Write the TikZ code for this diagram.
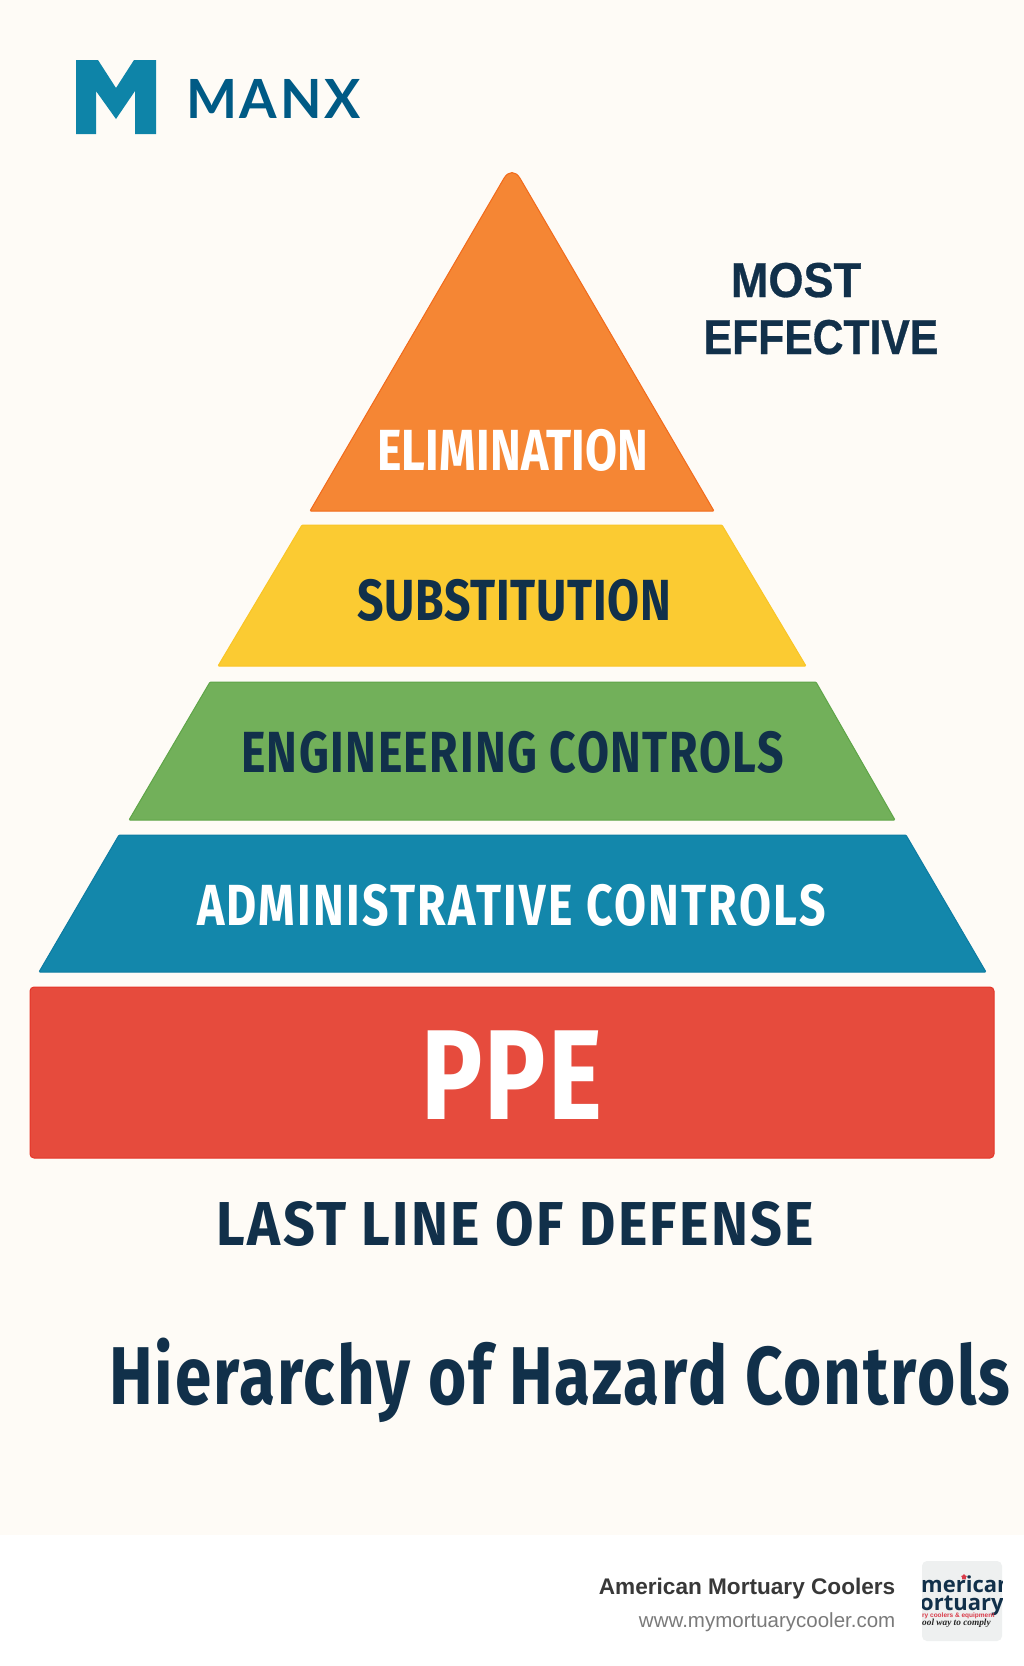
\documentclass[tikz,border=0pt]{standalone}
\usepackage{fontspec}
\usetikzlibrary{shapes.geometric}
\setmainfont{Fira Sans}
\newfontfamily\sidefont{Liberation Sans}
\newfontfamily\logofont[LetterSpace=5]{Lato}
\newfontfamily\badgefont{Open Sans}
\newfontfamily\mottofont{Liberation Serif}
\newcommand{\fitfont}[3]{\bfseries\addfontfeature{FakeStretch=#1,LetterSpace=#2}\fontsize{#3}{#3}\selectfont}
\newcommand{\sidetype}[1]{\sidefont\bfseries\addfontfeature{FakeStretch=#1,FakeBold=0.6}\fontsize{49}{52}\selectfont}

\definecolor{paper}{HTML}{FEFBF6}
\definecolor{navy}{HTML}{11304A}
\definecolor{elimfill}{HTML}{F58634}
\definecolor{elimline}{HTML}{F26A1B}
\definecolor{subsfill}{HTML}{FBCB32}
\definecolor{subsline}{HTML}{FAC526}
\definecolor{engifill}{HTML}{72B05A}
\definecolor{engiline}{HTML}{5FA548}
\definecolor{admifill}{HTML}{1387AB}
\definecolor{admiline}{HTML}{0E7CA2}
\definecolor{ppefill}{HTML}{E64B3D}
\definecolor{ppeline}{HTML}{E53528}
\definecolor{logoblue}{HTML}{0E84A8}
\definecolor{logotext}{HTML}{005A85}
\definecolor{badgefill}{HTML}{EEF0F0}
\definecolor{badgered}{HTML}{D93A48}

\tikzset{
    band/.style={rounded corners=1pt, line width=1pt},
    plainlabel/.style={anchor=base, inner sep=0pt},
    footlabel/.style={anchor=base east, inner sep=0pt, font=\sidefont},
    badgelabel/.style={anchor=base west, inner sep=0pt}
}

\begin{document}
\begin{tikzpicture}[x=1pt, y=-1pt]
    \useasboundingbox (0,0) rectangle (1024,1666);
    \fill[paper] (0,0) rectangle (1024,1535);
    \fill[white] (0,1535) rectangle (1024,1666);

    % logo
    \fill[logoblue] (76,60) -- (98,60) -- (116,88) -- (134,60) -- (156,60) -- (156,134) -- (135,134)
        -- (135,91) -- (116,119) -- (96,91) -- (96,134) -- (76,134) -- cycle;
    \node[anchor=base west, inner sep=0pt, text=logotext, font=\logofont\bfseries\fontsize{54}{56}\selectfont] (logo name) at (186,118) {MANX};

    % pyramid
    \draw[band, draw=elimline, fill=elimfill] (310,511) [rounded corners=16pt] -- (512,164.5) [rounded corners=1pt] -- (714,511) -- cycle;
    \draw[band, draw=subsline, fill=subsfill] (302,525) -- (722,525) -- (806,666) -- (218,666) -- cycle;
    \draw[band, draw=engiline, fill=engifill] (210,682) -- (816,682) -- (895,820) -- (129,820) -- cycle;
    \draw[band, draw=admiline, fill=admifill] (119,835) -- (906,835) -- (986,972) -- (39,972) -- cycle;
    \draw[band, rounded corners=4pt, draw=ppeline, fill=ppefill] (30,987) rectangle (994,1158);

    \node[plainlabel, text=white, font=\fitfont{0.8}{0.4}{58}] (elimination) at (513,470) {ELIMINATION};
    \node[plainlabel, text=navy, font=\fitfont{0.8}{1.4}{58}] (substitution) at (514.5,620) {SUBSTITUTION};
    \node[plainlabel, text=navy, font=\fitfont{0.8}{2.6}{58}] (engineering) at (512.5,772) {ENGINEERING CONTROLS};
    \node[plainlabel, text=white, font=\fitfont{0.8}{4}{58}] (administrative) at (511.5,925) {ADMINISTRATIVE CONTROLS};
    \node[plainlabel, text=white, font=\fitfont{0.8}{2}{128}] (ppe) at (512,1119) {PPE};

    \node[plainlabel, text=navy, font=\sidetype{0.92}] (most) at (796,297) {MOST};
    \node[plainlabel, text=navy, font=\sidetype{0.87}] (effective) at (821,354) {EFFECTIVE};
    \node[plainlabel, text=navy, font=\fitfont{0.9}{3.8}{62}] (last line) at (515.5,1245) {LAST LINE OF DEFENSE};
    \node[plainlabel, text=navy, font=\fitfont{0.8}{2.4}{82}] (title) at (560,1404) {Hierarchy of Hazard Controls};

    % footer
    \node[footlabel, text=black!78, font=\sidefont\bfseries\fontsize{22.6}{25}\selectfont] (company) at (895.5,1594) {American Mortuary Coolers};
    \node[footlabel, text=black!52, font=\sidefont\fontsize{20.5}{22}\selectfont] (website) at (895.5,1627) {www.mymortuarycooler.com};

    \fill[badgefill, rounded corners=5pt] (922,1561) rectangle (1002,1641);
    \begin{scope}
        \clip[rounded corners=5pt] (922,1561) rectangle (1002,1641);
        \node[badgelabel, text=navy, font=\badgefont\bfseries\fontsize{22}{24}\selectfont] (badge one) at (921,1592) {merican};
        \node[badgelabel, text=navy, font=\badgefont\bfseries\fontsize{22}{24}\selectfont] (badge two) at (920,1610) {ortuary};
        \node[star, star points=5, fill=badgered, inner sep=0pt, minimum size=6pt] (badge star) at (964,1577) {};
        \node[badgelabel, text=badgered, font=\sidefont\bfseries\fontsize{6.5}{7}\selectfont] (badge three) at (922,1617) {ry coolers \& equipment};
        \node[badgelabel, text=black!85, font=\mottofont\bfseries\itshape\fontsize{9.3}{10}\selectfont] (badge four) at (922,1625) {ool way to comply};
    \end{scope}
\end{tikzpicture}
\end{document}
